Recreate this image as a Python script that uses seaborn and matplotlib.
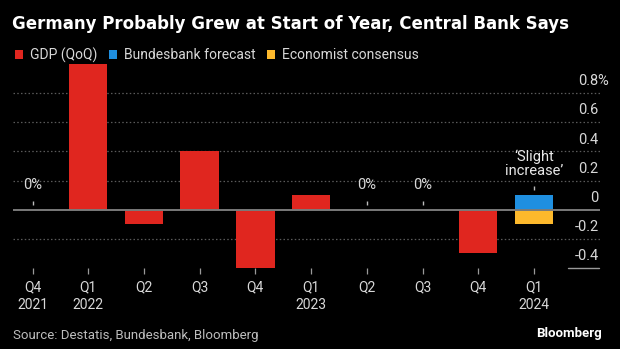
import numpy as np
import pandas as pd
import matplotlib
matplotlib.use("Agg")
import matplotlib.pyplot as plt
import matplotlib.transforms as mtransforms
from matplotlib.patches import Patch
import seaborn as sns

# ---- data ----
periods = ["2021Q4", "2022Q1", "2022Q2", "2022Q3", "2022Q4",
           "2023Q1", "2023Q2", "2023Q3", "2023Q4", "2024Q1"]
tick_labels = ["Q4\n2021", "Q1\n2022", "Q2", "Q3", "Q4",
               "Q1\n2023", "Q2", "Q3", "Q4", "Q1\n2024"]
gdp = [0.0, 1.0, -0.1, 0.4, -0.4, 0.1, 0.0, 0.0, -0.3, np.nan]
bundesbank = [np.nan] * 9 + [0.1]
consensus = [np.nan] * 9 + [-0.1]
series_names = ["GDP (QoQ)", "Bundesbank forecast", "Economist consensus"]
y_ticks = [0.8, 0.6, 0.4, 0.2, 0, -0.2, -0.4]
y_tick_labels = ["0.8", "0.6", "0.4", "0.2", "0", "-0.2", "-0.4"]

colors = {"GDP (QoQ)": "#e0261f", "Bundesbank forecast": "#1f8fe0",
          "Economist consensus": "#fdb92c"}

rows = []
for name, vals in zip(series_names, [gdp, bundesbank, consensus]):
    for p, v in zip(periods, vals):
        if not np.isnan(v):
            rows.append({"period": p, "value": v, "series": name})
df = pd.DataFrame(rows)

sns.set_style("dark")
plt.rcParams["font.family"] = ["Roboto", "DejaVu Sans"]
plt.rcParams["axes.unicode_minus"] = False

W, H = 620, 349
fig = plt.figure(figsize=(W / 100, H / 100), dpi=100, facecolor="black")
ax_left, ax_right, ax_top, ax_bot = 13, 600, 64, 268
ax = fig.add_axes([ax_left / W, 1 - ax_bot / H, (ax_right - ax_left) / W, (ax_bot - ax_top) / H])
ax.set_facecolor("black")

sns.barplot(data=df, x="period", y="value", hue="series", order=periods,
            hue_order=series_names, palette=colors, dodge=False, width=0.69,
            saturation=1, ax=ax, legend=False, zorder=2)
for p in ax.patches:
    p.set_edgecolor("none")

ax.set_xlim(-0.35, 10.185)
ax.set_ylim(-0.4, 1.0)
for s in ax.spines.values():
    s.set_visible(False)
ax.grid(False)
ax.set_xlabel("")
ax.set_ylabel("")

# gridlines
for t in y_ticks:
    if t == 0:
        ax.axhline(0, color="#7a7a7a", lw=1.4, zorder=3)
    elif t == -0.4:
        ax.plot([0.945, 0.998], [t, t], transform=ax.get_yaxis_transform(),
                color="#9a9a9a", lw=1.0, zorder=1, clip_on=False)
    else:
        ax.axhline(t, color="#5a5a5a", lw=0.9, ls=(0, (1.2, 1.8)), zorder=1)

# x ticks
ax.set_xticks(range(len(periods)))
ax.set_xticklabels(tick_labels, color="#d8d8d8", fontsize=10, linespacing=1.3)
ax.tick_params(axis="x", length=4, width=0.9, color="#9a9a9a", pad=5, bottom=True)

# y tick labels (inside, right, above gridlines)
ax.yaxis.tick_right()
ax.set_yticks(y_ticks)
ax.set_yticklabels(y_tick_labels, color="#d8d8d8", fontsize=10.5)
ax.tick_params(axis="y", length=0, pad=-1, right=True, left=False)
off = mtransforms.ScaledTranslation(0, 3.5 / 72, fig.dpi_scale_trans)
for lab in ax.get_yticklabels():
    lab.set_horizontalalignment("right")
    lab.set_verticalalignment("bottom")
    lab.set_transform(lab.get_transform() + off)
ax.text(0.996, 0.8, "%", transform=ax.get_yaxis_transform() + off,
        ha="left", va="bottom", color="#d8d8d8", fontsize=10.5, clip_on=False)

# zero annotations
for i, v in enumerate(gdp):
    if v == 0:
        ax.text(i, 0.17, "0%", ha="center", va="center", color="#d8d8d8", fontsize=10.5)
        ax.vlines(i, 0.03, 0.058, color="#bbbbbb", lw=1)
ax.text(9, 0.315, "\u2018Slight\nincrease\u2019", ha="center", va="center",
        color="#e8e8e8", fontsize=10.5, linespacing=1.05)
ax.vlines(9, 0.135, 0.16, color="#bbbbbb", lw=1)

# title
fig.text(12 / W, 1 - 24 / H, "Germany Probably Grew at Start of Year, Central Bank Says",
         ha="left", va="center", color="white", fontsize=12, fontweight="bold",
         family=["DejaVu Sans"])

# legend
handles = [Patch(facecolor=colors[n], edgecolor="none") for n in series_names]
leg = fig.legend(handles, series_names, loc="center left",
                 bbox_to_anchor=(15 / W, 1 - 55 / H), ncol=3, frameon=False,
                 fontsize=10, handlelength=0.6, handleheight=0.6, handletextpad=0.5,
                 columnspacing=0.8, borderaxespad=0, borderpad=0)
for t in leg.get_texts():
    t.set_color("#d8d8d8")

# footer
fig.text(13 / W, 1 - 336 / H, "Source: Destatis, Bundesbank, Bloomberg",
         ha="left", va="center", color="#bdbdbd", fontsize=9.5)
fig.text(602 / W, 1 - 334 / H, "Bloomberg", ha="right", va="center",
         color="white", fontsize=9.5, fontweight="bold")

fig.savefig("out.png", dpi=100, facecolor="black")
